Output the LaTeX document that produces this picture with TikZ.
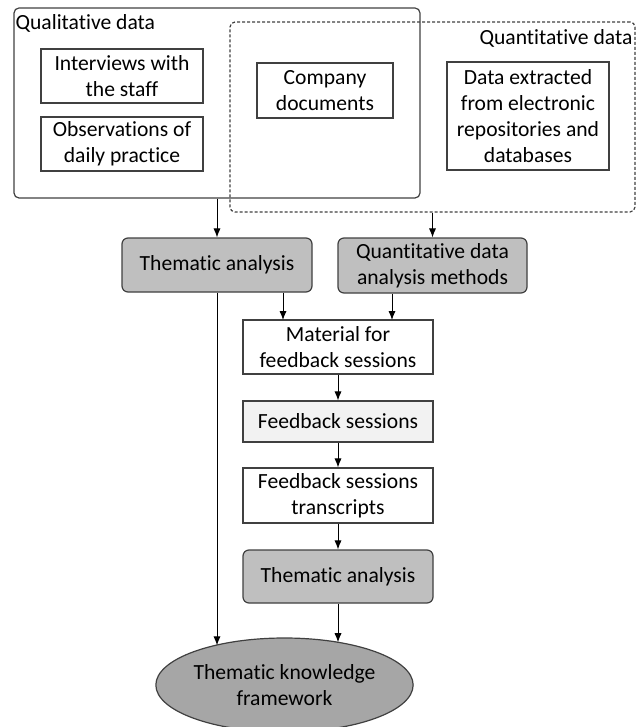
\documentclass[tikz,border=0pt]{standalone}
\usepackage{fontspec}
\setmainfont[Ligatures=NoCommon]{Carlito}
\usepackage{tikz}
\usetikzlibrary{shapes,shapes.geometric,arrows.meta,calc}
\tikzstyle{box}=[draw=black!75, line width=0.6pt, align=center, inner sep=0pt, font=\fontsize{10.8}{13}\selectfont]
\tikzstyle{group}=[draw=black!75, line width=0.6pt, inner sep=0pt]
\tikzstyle{grey}=[box, rounded corners=3pt, fill=black!25]
\tikzstyle{arr}=[-{Latex[length=4.5pt,width=3.6pt]}, line width=0.5pt]

\begin{document}
\begin{tikzpicture}[x=0.5pt, y=-0.5pt]
\useasboundingbox (0,0) rectangle (636,727);
% source groups
\node[group, rounded corners=2.5pt, minimum width=203pt, minimum height=95pt] (qual) at (217,103) {};
\node[group, dashed, dash pattern=on 1.5pt off 1pt, rounded corners=2.5pt, minimum width=202.5pt, minimum height=95pt] (quant) at (432.5,117) {};
\node[box, draw=none, anchor=west] (quallabel) at (15,23) {Qualitative data};
\node[box, draw=none, anchor=east] (quantlabel) at (633,38) {Quantitative data};
% data sources
\node[box, minimum width=81pt, minimum height=27pt] (interviews) at (122,76) {Interviews with\\the staff};
\node[box, minimum width=81pt, minimum height=27pt] (observations) at (122,144) {Observations of\\daily practice};
\node[box, minimum width=68pt, minimum height=27.5pt] (documents) at (325,90.5) {Company\\documents};
\node[box, minimum width=81pt, minimum height=54pt] (repositories) at (528,116) {Data extracted\\from electronic\\repositories and\\databases};
% analysis
\node[grey, minimum width=95pt, minimum height=27pt] (thematic1) at (217,265) {Thematic analysis};
\node[grey, minimum width=94.5pt, minimum height=27.5pt] (quantmethods) at (432.5,265.5) {Quantitative data\\analysis methods};
\node[box, minimum width=95pt, minimum height=27pt] (material) at (338,347) {Material for\\feedback sessions};
\node[box, fill=black!5, minimum width=95pt, minimum height=20.5pt] (feedback) at (338,421.5) {Feedback sessions};
\node[box, minimum width=95pt, minimum height=27.5pt] (transcripts) at (338,495.5) {Feedback sessions\\transcripts};
\node[grey, minimum width=95pt, minimum height=26.5pt] (thematic2) at (338,576.5) {Thematic analysis};
\node[box, ellipse, fill=black!35, minimum width=108.5pt, minimum height=47pt] (framework) at (284.5,685) {Thematic knowledge\\framework};
\coordinate (m1) at (283,320);
\coordinate (m2) at (392,320);

\draw[arr] (qual.south) -- (thematic1.north);
\draw[arr] (quant.south) -- (quantmethods.north);
\draw[arr] (thematic1.south -| m1) -- (m1);
\draw[arr] (quantmethods.south -| m2) -- (m2);
\draw[arr] (material) -- (feedback);
\draw[arr] (feedback) -- (transcripts);
\draw[arr] (transcripts) -- (thematic2);
\draw[arr] (thematic2.south) -- (thematic2.south |- framework.37.4);
\draw[arr] (thematic1.south) -- (thematic1.south |- framework.151.4);
\end{tikzpicture}
\end{document}
